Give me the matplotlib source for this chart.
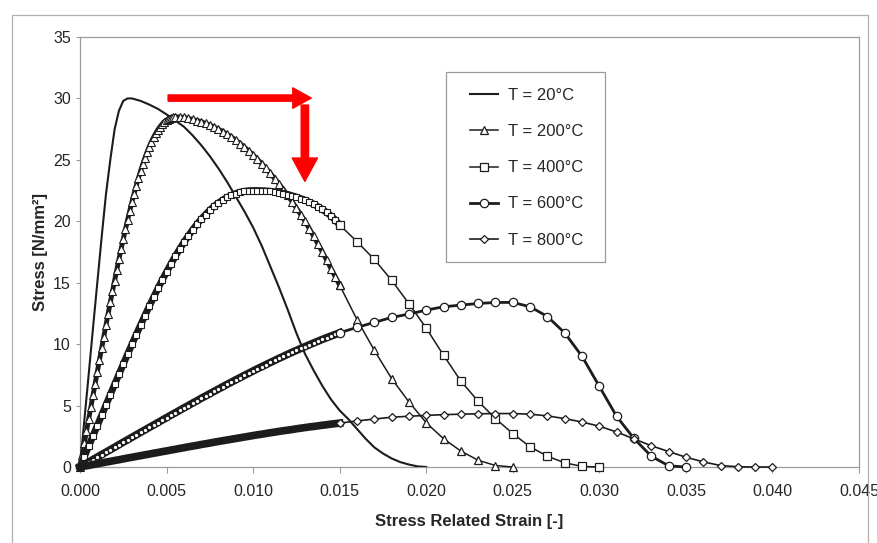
import numpy as np
import matplotlib
matplotlib.use('Agg')
import matplotlib.pyplot as plt
from matplotlib.patches import Rectangle

plt.rcParams['font.family'] = ['Liberation Sans', 'DejaVu Sans']

# ---- data ----
# 20 C: plain line
eps_20 = [0, 0.00025, 0.0005, 0.00075, 0.001, 0.00125, 0.0015, 0.00175, 0.002,
          0.00225, 0.0025, 0.00275, 0.003, 0.0035, 0.004, 0.0045, 0.005, 0.0055,
          0.006, 0.0065, 0.007, 0.0075, 0.008, 0.0085, 0.009, 0.0095, 0.010,
          0.0105, 0.011, 0.0115, 0.012, 0.0125, 0.013, 0.0135, 0.014, 0.0145,
          0.015, 0.0155, 0.016, 0.0165, 0.017, 0.0175, 0.018, 0.0185, 0.019,
          0.0195, 0.020]
sig_20 = [0, 3.8, 7.5, 11.3, 15.0, 18.7, 22.2, 25.0, 27.5, 29.0, 29.8, 30.0, 30.0,
          29.8, 29.5, 29.15, 28.7, 28.2, 27.7, 27.0, 26.2, 25.3, 24.3, 23.2, 22.0,
          20.8, 19.5, 18.0, 16.3, 14.6, 12.8, 10.9, 9.2, 7.85, 6.6, 5.5, 4.6, 3.9,
          3.1, 2.3, 1.6, 1.1, 0.7, 0.4, 0.2, 0.05, 0.0]

# 200 C: fine steps up to the peak, then 0.00025 steps to 0.015, then 0.001 steps
sig_200_up = [0, 0.97, 1.94, 2.91, 3.89, 4.85, 5.82, 6.79, 7.75, 8.71, 9.66, 10.61,
              11.54, 12.47, 13.39, 14.29, 15.18, 16.05, 16.91, 17.75, 18.56, 19.35,
              20.12, 20.86, 21.57, 22.25, 22.90, 23.52, 24.10, 24.65, 25.16, 25.64,
              26.08, 26.48, 26.84, 27.17, 27.46, 27.71, 27.93, 28.11, 28.25, 28.36,
              28.44, 28.49, 28.50]
sig_200_down = [28.49, 28.45, 28.38, 28.29, 28.2, 28.1, 27.97, 27.83, 27.67, 27.5,
                27.3, 27.09, 26.86, 26.6, 26.32, 26.03, 25.72, 25.4, 25.05, 24.68,
                24.3, 23.9, 23.47, 23.03, 22.57, 22.1, 21.6, 21.08, 20.55, 20.0,
                19.4, 18.78, 18.15, 17.5, 16.83, 16.15, 15.48, 14.8]
sig_200_tail = [12.0, 9.5, 7.2, 5.3, 3.6, 2.3, 1.3, 0.55, 0.12, 0.0]

# 400 C
sig_400_dense = [0, 0.84, 1.69, 2.53, 3.37, 4.21, 5.05, 5.89, 6.72, 7.55, 8.37, 9.19,
                 9.99, 10.78, 11.56, 12.33, 13.08, 13.81, 14.53, 15.22, 15.88, 16.52,
                 17.14, 17.72, 18.28, 18.80, 19.29, 19.75, 20.17, 20.55, 20.90, 21.22,
                 21.50, 21.74, 21.95, 22.12, 22.26, 22.37, 22.44, 22.49, 22.50,
                 22.50, 22.49, 22.47, 22.44, 22.39, 22.33, 22.26, 22.18, 22.08, 21.97,
                 21.85, 21.72, 21.56, 21.39, 21.19, 20.97, 20.72, 20.44, 20.10, 19.70]
sig_400_tail = [18.35, 16.9, 15.2, 13.3, 11.3, 9.1, 7.0, 5.35, 3.94, 2.72, 1.64,
                0.88, 0.34, 0.05, 0.0]

# 600 C
sig_600_dense = [0, 0.20, 0.40, 0.61, 0.81, 1.01, 1.21, 1.41, 1.61, 1.82, 2.02, 2.22,
                 2.42, 2.62, 2.82, 3.02, 3.22, 3.42, 3.62, 3.82, 4.02, 4.22, 4.41,
                 4.61, 4.81, 5.00, 5.20, 5.39, 5.59, 5.78, 5.97, 6.16, 6.35, 6.54,
                 6.73, 6.91, 7.10, 7.28, 7.46, 7.64, 7.82, 8.00, 8.17, 8.34, 8.51,
                 8.68, 8.85, 9.01, 9.18, 9.34, 9.49, 9.65, 9.80, 9.95, 10.10, 10.24,
                 10.39, 10.53, 10.66, 10.79, 10.93]
sig_600_tail = [11.36, 11.77, 12.17, 12.45, 12.77, 13.04, 13.18, 13.31, 13.39, 13.4,
                13.04, 12.25, 10.91, 9.01, 6.56, 4.12, 2.32, 0.88, 0.10, 0.0]

# 800 C
sig_800_dense = [0, 0.07, 0.13, 0.20, 0.26, 0.33, 0.40, 0.46, 0.53, 0.59, 0.66, 0.73,
                 0.79, 0.86, 0.92, 0.99, 1.05, 1.12, 1.18, 1.25, 1.31, 1.38, 1.44,
                 1.51, 1.57, 1.64, 1.70, 1.76, 1.83, 1.89, 1.95, 2.02, 2.08, 2.14,
                 2.20, 2.26, 2.32, 2.38, 2.44, 2.50, 2.56, 2.62, 2.67, 2.73, 2.79,
                 2.84, 2.90, 2.95, 3.00, 3.05, 3.11, 3.16, 3.21, 3.26, 3.30, 3.35,
                 3.40, 3.44, 3.49, 3.53, 3.57]
sig_800_tail = [3.75, 3.9, 4.05, 4.13, 4.2, 4.26, 4.3, 4.33, 4.35, 4.35, 4.3, 4.16,
                3.94, 3.66, 3.32, 2.85, 2.29, 1.73, 1.26, 0.8, 0.42, 0.12, 0.02, 0.0,
                0.0]

labels = ['T = 20°C', 'T = 200°C', 'T = 400°C', 'T = 600°C', 'T = 800°C']

# strain grids
eps_dense = np.arange(61) * 0.00025          # 0 .. 0.015
eps_fine = np.arange(45) * 0.000125          # 0 .. 0.0055

INK = '#1c1c1c'
TXT = '#262626'
GREY = '#9a9a9a'


def tail_eps(vals):
    return 0.016 + np.arange(len(vals)) * 0.001


def draw_series(ax, xd, yd, yt, marker, ms, lw, band_lw, band_ms, band_face, z, label):
    # dense part: thick band with packed markers
    ax.plot(xd, yd, color=INK, lw=band_lw, zorder=z, clip_on=False)
    if band_ms:
        ax.plot(xd, yd, ls='none', marker=marker, ms=band_ms, mfc=band_face, mec=INK,
                mew=0.8, zorder=z + 0.1, clip_on=False)
    # sparse part
    xt = np.concatenate([[xd[-1]], tail_eps(yt)])
    ytt = [yd[-1]] + list(yt)
    line, = ax.plot(xt, ytt, color=INK, lw=lw, marker=marker, ms=ms, mfc='white',
                    mec=INK, mew=0.9, zorder=z + 0.2, clip_on=False, label=label)
    return line


def main():
    fig = plt.figure(figsize=(8.77, 5.43), dpi=100)
    ax = fig.add_axes([80 / 877, 76 / 543, 779 / 877, 430 / 543])

    h20, = ax.plot(eps_20, sig_20, color=INK, lw=1.5, label=labels[0], zorder=3)

    x200 = np.concatenate([eps_fine, eps_dense[23:]])
    h200 = draw_series(ax, x200, sig_200_up + sig_200_down, sig_200_tail,
                       '^', 6, 1.1, 3.5, 6, 'white', 4, labels[1])
    h400 = draw_series(ax, eps_dense, sig_400_dense, sig_400_tail,
                       's', 5.5, 1.1, 5.0, 4.5, 'white', 5, labels[2])
    h600 = draw_series(ax, eps_dense, sig_600_dense, sig_600_tail,
                       'o', 6, 2.0, 5.5, 3.2, 'white', 6, labels[3])
    h800 = draw_series(ax, eps_dense, sig_800_dense, sig_800_tail,
                       'D', 4.5, 1.2, 5.5, 0, None, 7, labels[4])

    # red arrows
    ax.annotate('', xy=(0.01336, 30.03), xytext=(0.00509, 30.03),
                arrowprops=dict(arrowstyle='simple,head_length=0.95,head_width=1.05,tail_width=0.32',
                                color='#ff0000', mutation_scale=14, shrinkA=0, shrinkB=0),
                zorder=10)
    ax.annotate('', xy=(0.01299, 23.25), xytext=(0.01299, 29.46),
                arrowprops=dict(arrowstyle='simple,head_length=1.2,head_width=1.3,tail_width=0.38',
                                color='#ff0000', mutation_scale=14, shrinkA=0, shrinkB=0),
                zorder=10)

    ax.set_xlim(0, 0.045)
    ax.set_ylim(0, 35)
    ax.set_xticks(np.arange(10) * 0.005)
    ax.set_xticklabels(['%.3f' % v for v in np.arange(10) * 0.005])
    ax.set_yticks(range(0, 36, 5))
    ax.tick_params(axis='both', labelsize=11.5, colors=GREY, labelcolor=TXT,
                   width=0.8, direction='out')
    ax.tick_params(axis='y', length=3, pad=3.5)
    ax.tick_params(axis='x', length=4, pad=8)
    for s in ax.spines.values():
        s.set_color(GREY)
        s.set_linewidth(0.9)

    ax.set_xlabel('Stress Related Strain [-]', fontsize=12, fontweight='bold',
                  color=TXT, labelpad=11)
    ax.set_ylabel('Stress [N/mm²]', fontsize=12, fontweight='bold',
                  color=TXT, labelpad=4)

    leg = ax.legend(handles=[h20, h200, h400, h600, h800],
                    loc='upper left', bbox_to_anchor=(470 / 877, 1 - 88 / 543),
                    bbox_transform=fig.transFigure, borderaxespad=0, borderpad=0,
                    frameon=False, fontsize=12, numpoints=1,
                    handlelength=1.68, handletextpad=0.6, labelspacing=1.27)
    for t in leg.get_texts():
        t.set_color(TXT)
    # legend box
    fig.patches.append(Rectangle((446 / 877, 1 - 262 / 543), 159 / 877, 190 / 543,
                                 transform=fig.transFigure, fill=False,
                                 edgecolor=GREY, lw=0.9, zorder=1))

    # outer chart frame
    fig.patches.append(Rectangle((12 / 877, -0.05), 856 / 877, 1.05 - 15 / 543,
                                 transform=fig.transFigure, fill=False,
                                 edgecolor='#b0b0b0', lw=0.9))

    fig.savefig('out.png', dpi=100)


if __name__ == '__main__':
    main()
